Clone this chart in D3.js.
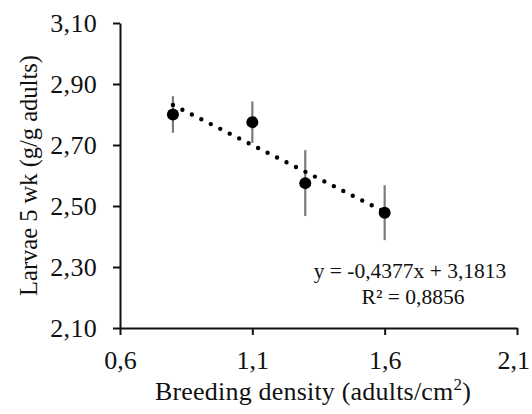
<!DOCTYPE html>
<html>
<head>
<meta charset="utf-8">
<script src="https://cdn.jsdelivr.net/npm/d3@7"></script>
<style>
  html, body { margin: 0; padding: 0; background: #fff; }
  svg { display: block; }
  text { font-family: "Liberation Serif", "Times New Roman", serif; fill: #111; }
</style>
</head>
<body>
<svg id="chart" width="532" height="414"></svg>
<script>
// Breeding density (adults/cm²) and larval yield after 5 weeks
const density = [0.8, 1.1, 1.3, 1.6];
const larvae = [2.80, 2.775, 2.575, 2.478];
const errors = [0.06, 0.068, 0.108, 0.09];

const xTickValues = [0.6, 1.1, 1.6, 2.1];
const xTickLabels = ["0,6", "1,1", "1,6", "2,1"];
const yTickValues = [2.1, 2.3, 2.5, 2.7, 2.9, 3.1];
const yTickLabels = ["2,10", "2,30", "2,50", "2,70", "2,90", "3,10"];

// Linear trendline
const slope = -0.4377;
const intercept = 3.1813;
const eqLabel = "y = -0,4377x + 3,1813";
const r2Label = "R² = 0,8856";

const W = 532;
const svg = d3.select("#chart");
const x = d3.scaleLinear().domain([0.6, 2.1]).range([120, 517]);
const y = d3.scaleLinear().domain([2.1, 3.1]).range([328, 23]);

// Axes
const xAxis = d3.axisBottom(x)
  .tickValues(xTickValues)
  .tickFormat((d, i) => xTickLabels[i])
  .tickSizeInner(7).tickSizeOuter(0).tickPadding(16);
const yAxis = d3.axisLeft(y)
  .tickValues(yTickValues)
  .tickFormat((d, i) => yTickLabels[i])
  .tickSizeInner(7).tickSizeOuter(0).tickPadding(16);

const gx = svg.append("g").attr("transform", `translate(0,${y(2.1)})`).call(xAxis);
const gy = svg.append("g").attr("transform", `translate(${x(0.6)},0)`).call(yAxis);

[gx, gy].forEach(g => {
  g.select(".domain").attr("stroke", "#111").attr("stroke-width", 2);
  g.selectAll(".tick line").attr("stroke", "#111").attr("stroke-width", 2);
  g.selectAll(".tick text")
    .attr("font-family", "Liberation Serif, Times New Roman, serif")
    .attr("font-size", 26).attr("fill", "#111");
});
gy.selectAll(".tick text").attr("letter-spacing", 0.3);
gx.selectAll(".tick text").attr("dy", "0.71em");

// Keep x tick labels inside the right edge
gx.selectAll(".tick").each(function () {
  const t = d3.select(this);
  const tx = +t.attr("transform").match(/translate\(([-\d.]+)/)[1];
  const box = this.querySelector("text").getBBox();
  const overflow = tx + box.x + box.width - (W - 2);
  if (overflow > 0) t.select("text").attr("dx", -overflow);
});

// Axis titles
svg.append("text")
  .attr("transform", `translate(37,${(y(2.1) + y(3.1)) / 2}) rotate(-90)`)
  .attr("text-anchor", "middle")
  .attr("font-size", 24.5)
  .text("Larvae 5 wk (g/g adults)");

const xt = svg.append("text")
  .attr("x", 313).attr("y", 400)
  .attr("text-anchor", "middle")
  .attr("font-size", 26)
  .attr("letter-spacing", 0.2);
xt.append("tspan").text("Breeding density (adults/cm");
xt.append("tspan").attr("font-size", 17).attr("dy", -10).text("2");
xt.append("tspan").attr("dy", 10).text(")");

// Error bars
svg.append("g").selectAll("line")
  .data(density)
  .join("line")
  .attr("x1", d => x(d)).attr("x2", d => x(d))
  .attr("y1", (d, i) => y(larvae[i] + errors[i]))
  .attr("y2", (d, i) => y(larvae[i] - errors[i]))
  .attr("stroke", "#7a7a7a").attr("stroke-width", 2.2);

// Dotted trendline over the data range
const [x0, x1] = d3.extent(density);
svg.append("line")
  .attr("x1", x(x0)).attr("y1", y(intercept + slope * x0))
  .attr("x2", x(x1)).attr("y2", y(intercept + slope * x1))
  .attr("stroke", "#000").attr("stroke-width", 4.4)
  .attr("stroke-linecap", "round")
  .attr("stroke-dasharray", "0 10.6");

// Markers
svg.append("g").selectAll("circle")
  .data(density)
  .join("circle")
  .attr("cx", d => x(d))
  .attr("cy", (d, i) => y(larvae[i]))
  .attr("r", 6)
  .attr("fill", "#000");

// Trendline equation
svg.append("text").attr("x", 410).attr("y", 278)
  .attr("text-anchor", "middle").attr("font-size", 21.5).text(eqLabel);
svg.append("text").attr("x", 413).attr("y", 304)
  .attr("text-anchor", "middle").attr("font-size", 21.5).text(r2Label);
</script>
</body>
</html>
